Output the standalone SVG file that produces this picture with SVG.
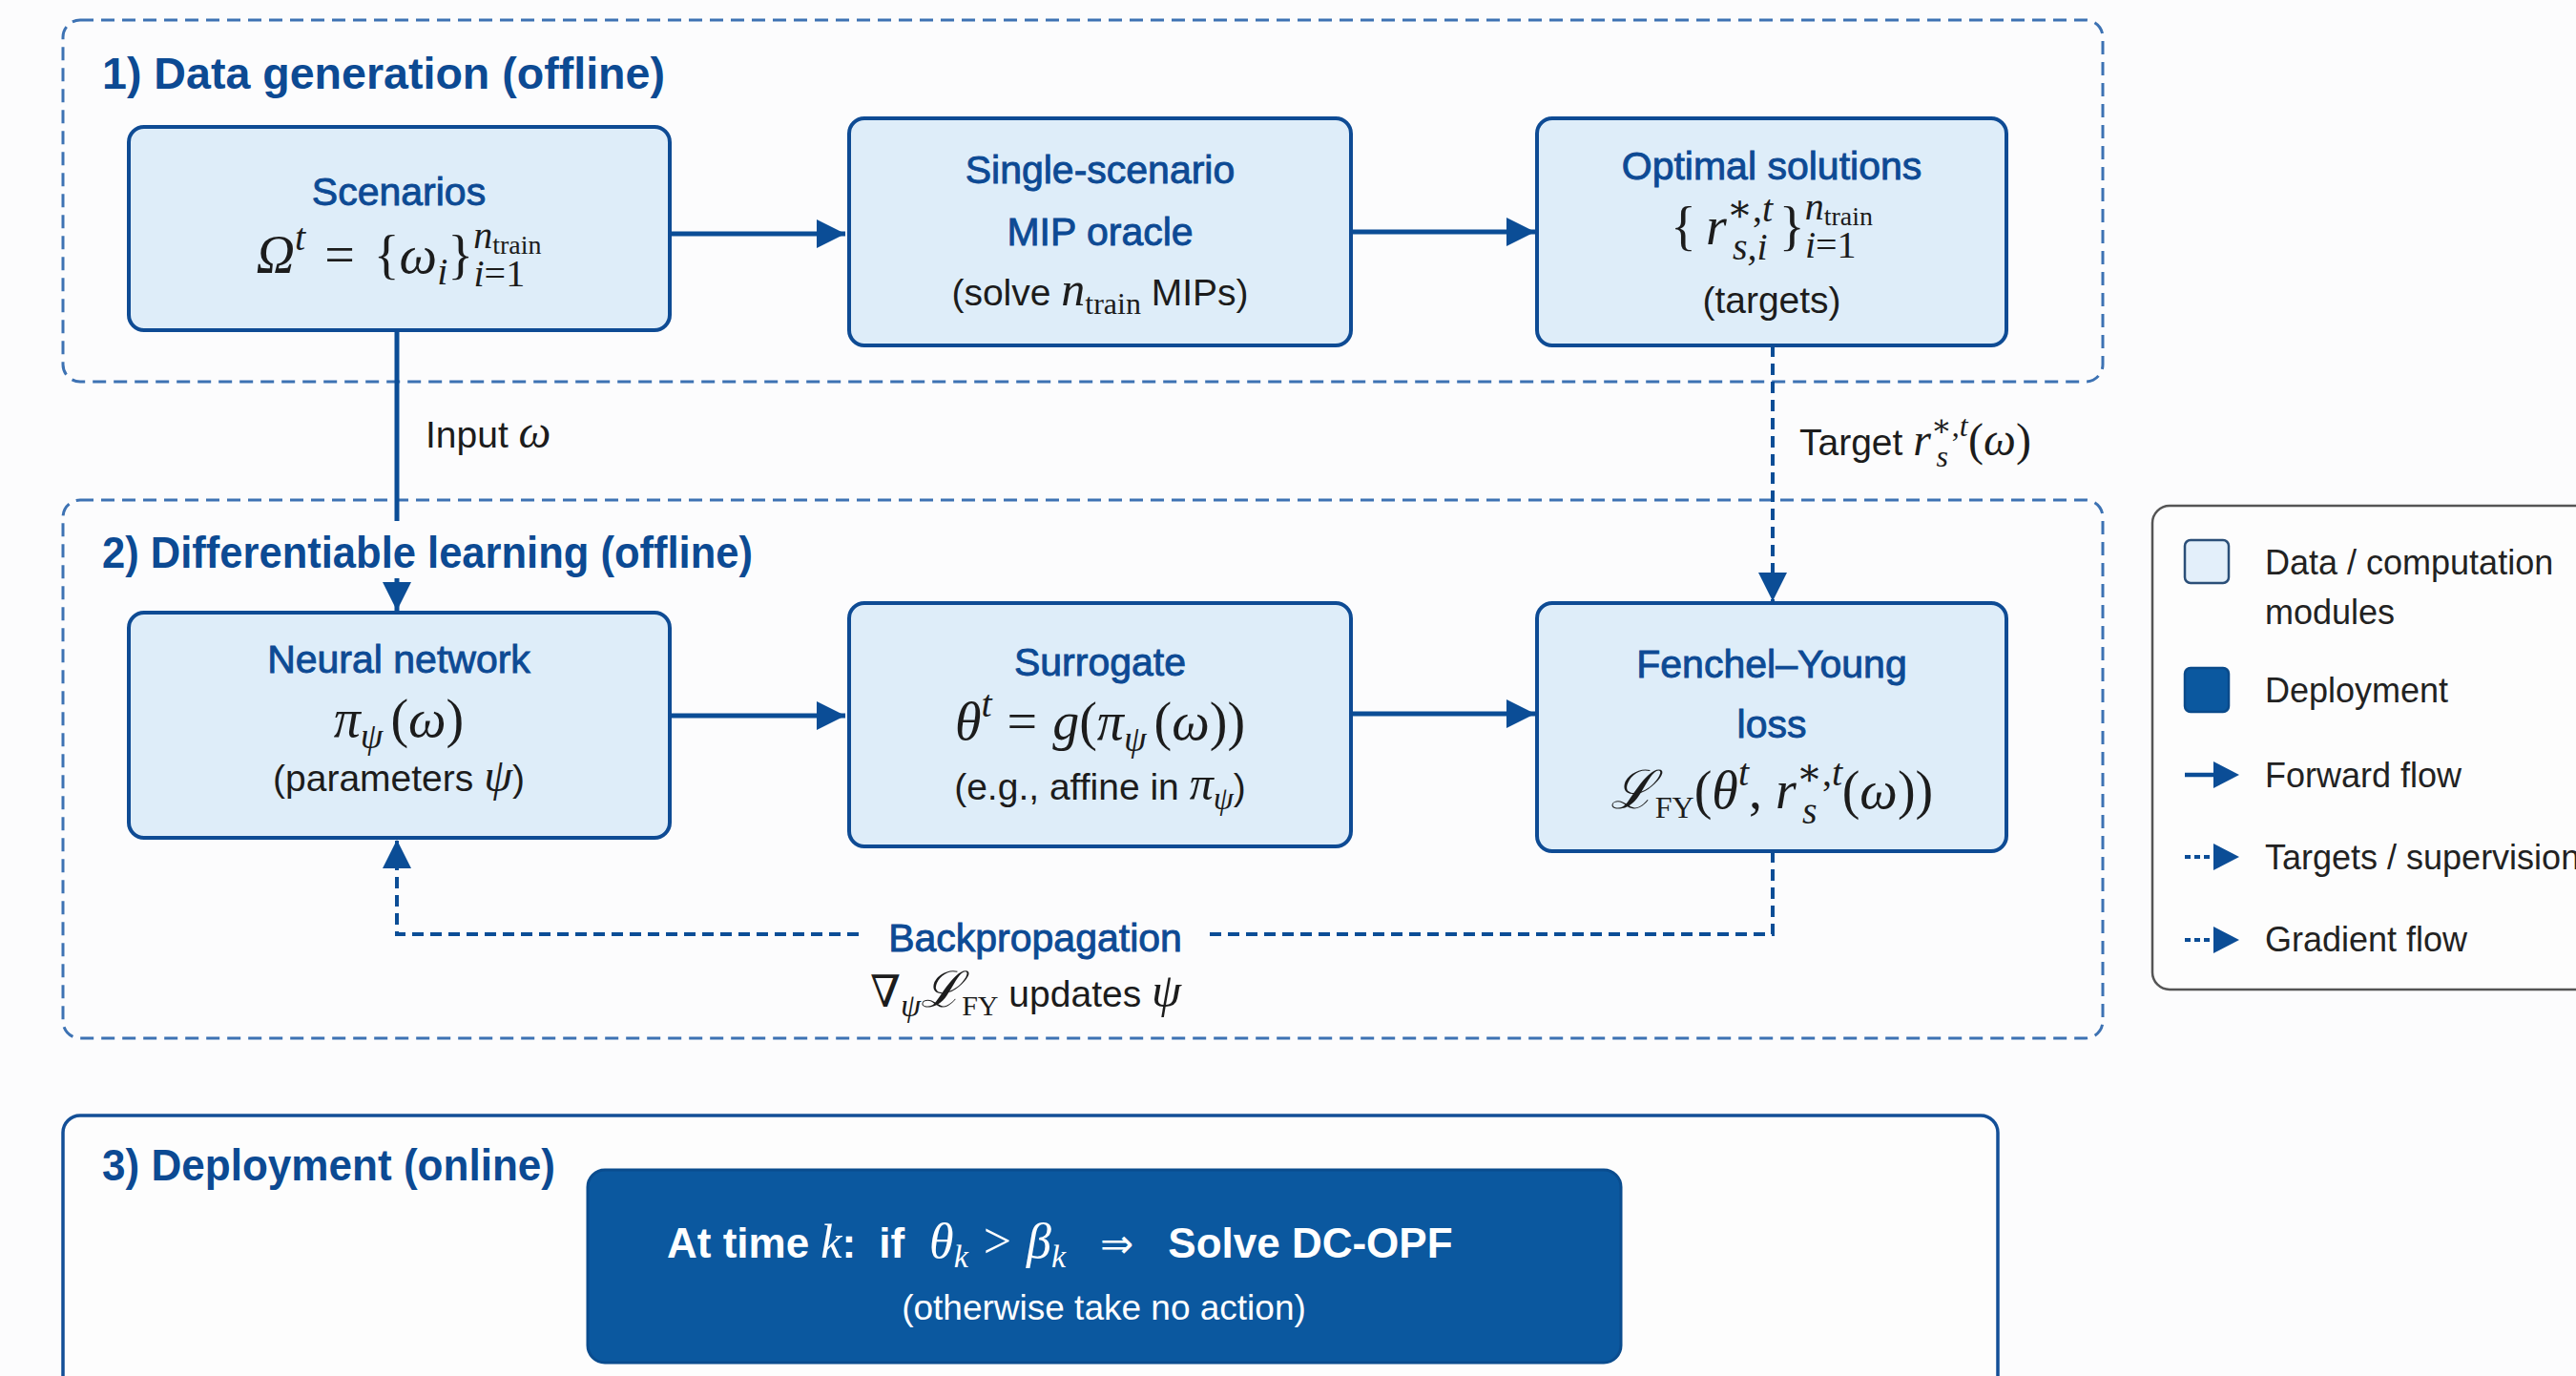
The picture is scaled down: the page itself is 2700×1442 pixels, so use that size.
<svg xmlns="http://www.w3.org/2000/svg" width="2700" height="1442" viewBox="0 0 2700 1442">
<defs>
<style>
.sec{fill:none;stroke:#3d72b3;stroke-width:3;stroke-dasharray:14 8}
.box{fill:#deedf9;stroke:#0e4b94;stroke-width:4}
.ttl{font-family:"Liberation Sans",Arial,sans-serif;font-weight:bold;font-size:46px;fill:#0c4a93}
.bt{font-family:"Liberation Sans",Arial,sans-serif;font-size:41px;fill:#0d4a94;stroke:#0d4a94;stroke-width:0.9}
.tx{font-family:"Liberation Sans",Arial,sans-serif;font-size:39px;fill:#1c1c1c}
.m{font-family:"Liberation Serif","DejaVu Serif","Times New Roman",serif;fill:#1c1c1c}
.i{font-style:italic}
.lg{font-family:"Liberation Sans",Arial,sans-serif;font-size:36px;fill:#222}
.sol{fill:none;stroke:#0b4d96;stroke-width:5}
.dsh{fill:none;stroke:#0b4d96;stroke-width:4;stroke-dasharray:12 7}
.bg{fill:#fcfcfd}
.w{font-family:"Liberation Serif",serif;font-weight:normal}
</style>
<marker id="ah" markerUnits="userSpaceOnUse" markerWidth="32" markerHeight="32" refX="30" refY="16" orient="auto">
<path d="M0,1 L30,16 L0,31 z" fill="#0b4d96"/>
</marker>
</defs>
<rect x="0" y="0" width="2700" height="1442" class="bg"/>

<g id="sections">
<rect id="section-1" class="sec" x="66" y="21" width="2138" height="379" rx="18"/>
<rect id="section-2" class="sec" x="66" y="524" width="2138" height="564" rx="18"/>
<rect id="section-3" x="66" y="1169" width="2028" height="330" rx="18" fill="#fdfdfd" stroke="#134f97" stroke-width="3.5"/>
</g>

<g id="connectors">
<path class="sol" d="M702,245 H886" marker-end="url(#ah)"/>
<path class="sol" d="M1416,243 H1609" marker-end="url(#ah)"/>
<path class="sol" d="M416,346 V640" marker-end="url(#ah)"/>
<path class="dsh" d="M1858,362 V630" marker-end="url(#ah)"/>
<path class="sol" d="M702,750 H886" marker-end="url(#ah)"/>
<path class="sol" d="M1416,748 H1609" marker-end="url(#ah)"/>
<path class="dsh" d="M1858,892 V979 H416 V880" marker-end="url(#ah)"/>
</g>

<g id="section-labels">
<text class="ttl" x="107" y="93" textLength="590" lengthAdjust="spacingAndGlyphs">1) Data generation (offline)</text>
<rect class="bg" x="98" y="546" width="705" height="60"/>
<text class="ttl" x="107" y="595" textLength="682" lengthAdjust="spacingAndGlyphs">2) Differentiable learning (offline)</text>
<text class="ttl" x="107" y="1237" textLength="475" lengthAdjust="spacingAndGlyphs">3) Deployment (online)</text>
<text class="tx" x="446" y="469">Input <tspan class="m i" font-size="48">ω</tspan></text>
<text class="tx" x="1886" y="477">Target <tspan class="m i" font-size="48">r</tspan><tspan class="m" font-size="32" dy="-20">∗,</tspan><tspan class="m i" font-size="32">t</tspan><tspan class="m i" font-size="32" dx="-33" dy="32">s</tspan><tspan class="m" font-size="48" dx="21" dy="-12">(</tspan><tspan class="m i" font-size="48">ω</tspan><tspan class="m" font-size="48">)</tspan></text>
<rect class="bg" x="903" y="955" width="362" height="50"/>
<text class="bt" x="1085" y="997" text-anchor="middle">Backpropagation</text>
<text class="tx" x="1075" y="1055" text-anchor="middle" font-size="41"><tspan class="m" font-size="46">∇</tspan><tspan class="m i" font-size="34" dy="10">ψ</tspan><tspan class="m i" font-size="52" dy="-10">ℒ</tspan><tspan class="m" font-size="30" dy="9">FY</tspan><tspan dy="-9"> updates </tspan><tspan class="m i" font-size="50">ψ</tspan></text>
</g>

<g id="node-scenarios">
<rect class="box" x="135" y="133" width="567" height="213" rx="16"/>
<text class="bt" x="418" y="215" text-anchor="middle">Scenarios</text>
<text class="m" x="418" y="286" text-anchor="middle" font-size="56"><tspan class="i">Ω</tspan><tspan class="i" font-size="40" dy="-24">t</tspan><tspan dy="24" dx="20">=</tspan><tspan dx="20">{</tspan><tspan class="i">ω</tspan><tspan class="i" font-size="40" dy="12">i</tspan><tspan dy="-12">}</tspan><tspan class="i" font-size="40" dy="-26">n</tspan><tspan font-size="28" dy="6">train</tspan><tspan class="i" font-size="40" dx="-71" dy="34">i</tspan><tspan font-size="40">=1</tspan></text>
</g>

<g id="node-oracle">
<rect class="box" x="890" y="124" width="526" height="238" rx="16"/>
<text class="bt" x="1153" y="192" text-anchor="middle">Single-scenario</text>
<text class="bt" x="1153" y="257" text-anchor="middle">MIP oracle</text>
<text class="tx" x="1153" y="320" text-anchor="middle" font-size="40">(solve <tspan class="m i" font-size="50">n</tspan><tspan class="m" font-size="32" dy="9">train</tspan><tspan dy="-9"> MIPs)</tspan></text>
</g>

<g id="node-optimal">
<rect class="box" x="1611" y="124" width="492" height="238" rx="16"/>
<text class="bt" x="1857" y="188" text-anchor="middle">Optimal solutions</text>
<text class="m" x="1857" y="256" text-anchor="middle" font-size="56"><tspan>{</tspan><tspan class="i" dx="10">r</tspan><tspan font-size="40" dy="-24">∗,</tspan><tspan class="i" font-size="40">t</tspan><tspan class="i" font-size="40" dx="-42" dy="40">s,i</tspan><tspan dx="12" dy="-16">}</tspan><tspan class="i" font-size="40" dy="-26">n</tspan><tspan font-size="28" dy="6">train</tspan><tspan class="i" font-size="40" dx="-71" dy="34">i</tspan><tspan font-size="40">=1</tspan></text>
<text class="tx" x="1857" y="328" text-anchor="middle" font-size="40">(targets)</text>
</g>

<g id="node-neural">
<rect class="box" x="135" y="642" width="567" height="236" rx="16"/>
<text class="bt" x="418" y="705" text-anchor="middle">Neural network</text>
<text class="m" x="418" y="772" text-anchor="middle" font-size="56"><tspan class="i">π</tspan><tspan class="i" font-size="38" dy="12">ψ</tspan><tspan dx="8" dy="-12">(</tspan><tspan class="i">ω</tspan><tspan>)</tspan></text>
<text class="tx" x="418" y="829" text-anchor="middle">(parameters <tspan class="m i" font-size="48">ψ</tspan>)</text>
</g>

<g id="node-surrogate">
<rect class="box" x="890" y="632" width="526" height="255" rx="16"/>
<text class="bt" x="1153" y="708" text-anchor="middle">Surrogate</text>
<text class="m" x="1153" y="775" text-anchor="middle" font-size="56"><tspan class="i">θ</tspan><tspan class="i" font-size="40" dy="-24">t</tspan><tspan dy="24" dx="16">=</tspan><tspan class="i" dx="16">g</tspan><tspan>(</tspan><tspan class="i">π</tspan><tspan class="i" font-size="38" dy="12">ψ</tspan><tspan dx="8" dy="-12">(</tspan><tspan class="i">ω</tspan><tspan>))</tspan></text>
<text class="tx" x="1153" y="838" text-anchor="middle" font-size="40">(e.g., affine in <tspan class="m i" font-size="50">π</tspan><tspan class="m i" font-size="34" dy="10">ψ</tspan><tspan dy="-10">)</tspan></text>
</g>

<g id="node-fenchel">
<rect class="box" x="1611" y="632" width="492" height="260" rx="16"/>
<text class="bt" x="1857" y="710" text-anchor="middle">Fenchel–Young</text>
<text class="bt" x="1857" y="773" text-anchor="middle">loss</text>
<text class="m" x="1857" y="847" text-anchor="middle" font-size="56"><tspan class="i">ℒ</tspan><tspan font-size="32" dy="10">FY</tspan><tspan dy="-10">(</tspan><tspan class="i">θ</tspan><tspan class="i" font-size="40" dy="-24">t</tspan><tspan dy="24">, </tspan><tspan class="i">r</tspan><tspan font-size="40" dy="-24">∗,</tspan><tspan class="i" font-size="40">t</tspan><tspan class="i" font-size="40" dx="-42" dy="40">s</tspan><tspan dx="26" dy="-16">(</tspan><tspan class="i">ω</tspan><tspan>))</tspan></text>
</g>

<g id="node-deploy">
<rect x="616" y="1226" width="1083" height="202" rx="18" fill="#0b589f" stroke="#0a4c8e" stroke-width="3"/>
<text x="699" y="1318" font-family="Liberation Sans, Arial, sans-serif" font-weight="bold" font-size="44" fill="#ffffff">At time <tspan class="w" font-style="italic" font-size="50">k</tspan>:<tspan dx="24">if</tspan><tspan dx="26" class="w" font-style="italic" font-size="52">θ</tspan><tspan class="w" font-style="italic" font-size="34" dy="10">k</tspan><tspan dx="16" dy="-10" class="w" font-size="52">&gt;</tspan><tspan dx="16" class="w" font-style="italic" font-size="52">β</tspan><tspan class="w" font-style="italic" font-size="34" dy="10">k</tspan><tspan dx="36" dy="-10" font-family="DejaVu Sans, sans-serif" font-weight="normal" font-size="42">⇒</tspan><tspan dx="36">Solve DC-OPF</tspan></text>
<text x="1157" y="1383" text-anchor="middle" font-family="Liberation Sans, Arial, sans-serif" font-size="37" fill="#ffffff">(otherwise take no action)</text>
</g>

<g id="legend">
<rect x="2256" y="530" width="600" height="507" rx="18" fill="#fdfdfd" stroke="#555" stroke-width="2.5"/>
<rect x="2290" y="566" width="46" height="45" rx="6" fill="#e3effa" stroke="#2b4f78" stroke-width="2.5"/>
<text class="lg" x="2374" y="602">Data / computation</text>
<text class="lg" x="2374" y="654">modules</text>
<rect x="2290" y="700" width="46" height="46" rx="6" fill="#0b589f" stroke="#0a4a8a" stroke-width="2.5"/>
<text class="lg" x="2374" y="736">Deployment</text>
<line x1="2290" y1="812" x2="2324" y2="812" stroke="#0b4d96" stroke-width="4.5"/>
<path d="M2320,798 L2347,812 L2320,826 z" fill="#0b4d96"/>
<text class="lg" x="2374" y="825">Forward flow</text>
<line x1="2290" y1="898" x2="2322" y2="898" stroke="#0b4d96" stroke-width="4" stroke-dasharray="6 4"/>
<path d="M2320,884 L2347,898 L2320,912 z" fill="#0b4d96"/>
<text class="lg" x="2374" y="911">Targets / supervision</text>
<line x1="2290" y1="985" x2="2322" y2="985" stroke="#0b4d96" stroke-width="4" stroke-dasharray="6 4"/>
<path d="M2320,971 L2347,985 L2320,999 z" fill="#0b4d96"/>
<text class="lg" x="2374" y="997">Gradient flow</text>
</g>
</svg>
